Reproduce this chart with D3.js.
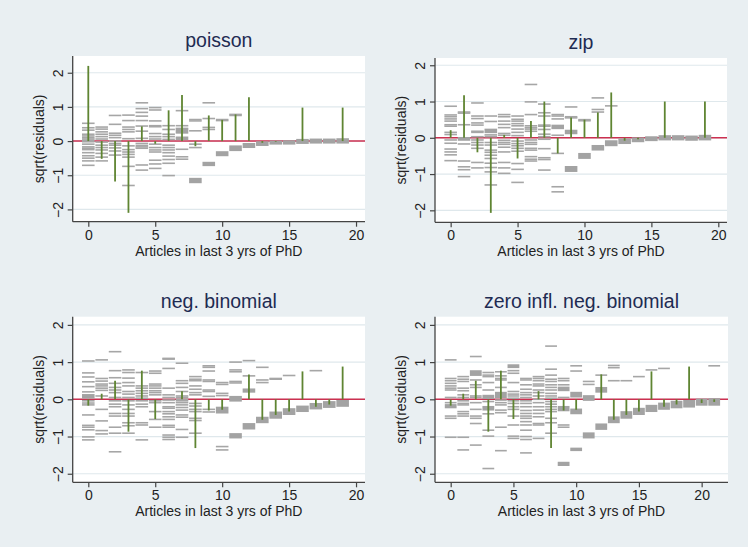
<!DOCTYPE html>
<html>
<head>
<meta charset="utf-8">
<script src="https://cdn.jsdelivr.net/npm/d3@7"></script>
<style>
  body { margin: 0; background: #e9eff2; }
  text { font-family: "Liberation Sans", Arial, sans-serif; }
</style>
</head>
<body>
<div id="chart"></div>
<script>
// panel titles
var titles = ["poisson", "zip", "neg. binomial", "zero infl. neg. binomial"];
var xTicks = [0, 5, 10, 15, 20];
var yTicks = [-2, -1, 0, 1, 2];

// mean residual spikes, one per count (0..n)
var poissonSpikes = [2.2, -0.52, -1.18, -2.1, 0.43, -0.08, 0.9, 1.35, -0.15, 0.75, 0.62, 0.78, 1.28, -0.05, -0.02, 0, 0.98, 0, 0, 0.98];
var zipSpikes = [0.21, 1.17, -0.4, -2.07, 0.08, -0.57, 0.46, 1.0, -0.43, 0.56, 0.5, 0.7, 1.25, -0.08, -0.04, 0, 1.0, 0, 0, 1.0];
var nbSpikes = [-0.17, 0.15, 0.5, -0.87, 0.77, -0.53, 0, 0.22, -1.31, -0.3, -0.28, 0, 0.67, -0.55, -0.42, -0.33, 0.75, -0.2, -0.14, 0.88];
var zinbSpikes = [-0.17, 0.15, 0.5, -0.87, 0.77, -0.53, 0, 0.22, -1.31, -0.3, -0.28, 0, 0.67, -0.55, -0.42, -0.33, 0.75, -0.2, -0.14, 0.88, -0.1, -0.07];

// residual dashes per count; [a, b] = dense band
var poissonDashes = [
  [0.52, 0.39, 0.32, 0.2, 0.15, 0.1, 0.06, 0.02, -0.02, -0.09, -0.17, -0.21, -0.25, -0.34, -0.43, -0.5, -0.58, -0.71],
  [0.41, 0.35, 0.27, 0.2, 0.13, 0.06, -0.03, -0.12, -0.19, -0.26, -0.36, -0.47, -0.58],
  [0.75, 0.49, 0.23, 0.17, 0.1, 0.0, -0.07, -0.12, -0.2, -0.29, -0.41],
  [0.76, 0.6, 0.41, 0.34, 0.27, 0.07, -0.14, -0.25, -0.32, -0.39, -0.47, -0.74, -1.3],
  [1.12, 0.95, 0.84, 0.73, 0.6, 0.44, 0.29, 0.08, -0.07, -0.13, -0.17, -0.21, -0.7, -0.85],
  [0.98, 0.91, 0.59, 0.45, 0.42, 0.22, 0.13, 0.06, -0.09, -0.19, -0.26, -0.32, -0.56, -0.67, -0.8],
  [0.45, 0.34, 0.2, 0.13, 0.05, -0.12, -0.19, -0.26, -0.34, -0.44, -0.54, -0.65, -1.01],
  [0.89, 0.45, 0.37, [0.34, 0.24], [0.11, 0.05], -0.24, -0.46, -0.53],
  [0.63, 0.59, 0.3, -0.09, -0.19, [-1.1, -1.21]],
  [1.12, 0.66, 0.4, 0.34, [-0.63, -0.71]],
  [0.63, 0.6, [-0.32, -0.42]],
  [0.78, 0.75, [-0.15, -0.27]],
  [[-0.08, -0.18]],
  [[-0.03, -0.12]],
  [[-0.01, -0.08]],
  [[0, -0.08]],
  [[0.04, -0.06]],
  [[0.05, -0.05]],
  [[0.05, -0.05]],
  [[0.06, -0.05]]
];
var zipDashes = [
  [0.87, 0.63, 0.58, 0.52, 0.46, 0.36, 0.32, 0.15, 0.09, -0.06, -0.15, -0.31, -0.39, -0.47, -0.63],
  [0.71, 0.68, 0.36, [0.0, -0.06], -0.17, -0.64, -0.8, -0.88, -1.07],
  [0.96, 0.6, 0.53, 0.41, 0.35, 0.18, 0.15, 0.03, -0.06, -0.13, -0.2, -0.29, -0.68, -0.83],
  [0.6, 0.45, [0.23, 0.15], 0.08, 0.03, -0.13, -0.2, -0.34, -0.4, -0.48, -0.57, -0.7, -0.82, -0.94, -1.3],
  [0.64, 0.58, 0.46, 0.37, 0.28, 0.12, 0.07, -0.07, -0.13, -0.18, -0.26, -0.39, -0.68, -0.83, -0.98],
  [0.6, 0.51, 0.46, 0.39, 0.33, 0.24, 0.15, 0.06, -0.09, -0.16, -0.22, -0.29, -0.37, -0.71, -0.87, -1.23],
  [1.47, 0.99, 0.64, 0.33, 0.28, 0.24, 0.18, -0.06, -0.13, -0.18, -0.29, -0.34, -0.52, -0.59, -0.64],
  [0.93, 0.69, 0.6, 0.35, 0.32, 0.23, 0.1, 0.03, -0.04, -0.3, -0.55, -0.6, -0.89],
  [0.64, 0.6, 0.52, [0.34, 0.26], 0.07, -0.43, -1.35, -1.49],
  [0.85, 0.58, 0.55, [0.2, 0.12], [-0.8, -0.92]],
  [0.5, 0.47, [-0.44, -0.56]],
  [1.1, 0.78, 0.71, [-0.22, -0.33]],
  [0.88, [-0.09, -0.21]],
  [[-0.04, -0.15]],
  [[-0.01, -0.1]],
  [[0.02, -0.07]],
  [[0.05, -0.05]],
  [[0.05, -0.05]],
  [[0.04, -0.06]],
  [[0.06, -0.05]]
];
var nbDashes = [
  [1.03, 0.71, 0.6, 0.47, 0.34, 0.2, [0.12, 0.04], -0.04, -0.1, -0.15, -0.42, -0.7, -0.75, -0.82, -1.01, -1.09],
  [1.06, 0.56, 0.49, 0.41, 0.36, 0.3, 0.24, 0.09, -0.27, -0.58, -0.84, -0.93],
  [1.28, 0.77, 0.58, 0.43, 0.32, 0.25, 0.18, 0.05, -0.04, -0.13, -0.2, -0.38, -0.45, -0.75, -0.91, -1.41],
  [0.79, 0.72, 0.57, 0.45, 0.36, 0.21, 0.14, 0.05, -0.04, -0.15, -0.27, -0.38, -0.45, -0.63, -0.71, -0.91],
  [0.72, 0.36, 0.3, 0.23, 0.16, 0.09, 0.03, -0.04, -0.13, -0.2, -0.63, -0.69, -1.09],
  [0.76, 0.7, 0.41, 0.36, 0.3, 0.23, 0.18, 0.12, -0.04, -0.09, -0.33, -0.54, -0.75],
  [1.1, 1.08, 0.83, 0.3, 0.12, 0.05, -0.02, -0.09, -0.2, -0.24, -0.33, -0.39, -0.47, -0.54, -0.7, -0.75, -0.96, -1.02, -1.08],
  [0.97, 0.5, 0.43, 0.32, 0.21, 0.09, 0.05, 0, -0.04, -0.09, -0.15, -0.22, -0.29, -0.42, -0.48, -0.81, -1.02],
  [0.61, 0.54, 0.5, 0.36, 0.27, 0.18, 0.12, -0.11, -0.18, -0.27, -0.33, -0.51, -0.57, -0.91],
  [0.9, 0.86, 0.76, 0.52, 0.48, 0.25, 0.21, 0.08, -0.27, -0.34],
  [0.45, 0.4, 0.16, 0.1, [-0.22, -0.36], -1.27, -1.36],
  [1.0, 0.79, 0.74, 0.48, 0.44, [0.07, -0.04], [-0.93, -1.03]],
  [1.04, 0.63, [0.27, 0.2], [-0.66, -0.79]],
  [0.86, 0.52, 0.45, [-0.49, -0.62]],
  [0.56, 0.54, [-0.35, -0.5]],
  [0.64, [-0.26, -0.4]],
  [[-0.19, -0.32]],
  [0.77, [-0.12, -0.25]],
  [[-0.07, -0.21]],
  [[-0.04, -0.18]]
];
var zinbDashes = [
  [1.06, 0.56, 0.5, 0.43, 0.36, 0.3, 0.25, 0.05, -0.09, [-0.15, -0.22], -0.45, -0.51, -1.02],
  [0.61, 0.54, 0.48, 0.3, 0.23, 0.12, 0.05, -0.04, -0.11, -0.15, -0.33, -0.39, -0.45, -1.02, -1.36],
  [1.15, [0.76, 0.65], 0.52, 0.39, 0.32, 0.09, 0.05, -0.09, -0.27, -0.45, -0.51, -0.65, -1.23],
  [0.72, 0.65, 0.61, 0.45, 0.25, [0.1, 0.03], -0.06, [-0.2, -0.28], -0.39, -0.83, -0.99, -1.86],
  [0.74, 0.63, 0.56, 0.52, 0.32, [0.18, 0.05], -0.02, -0.09, -0.15, -0.29, -0.36, -0.75, -1.38],
  [[0.92, 0.86], 0.77, 0.7, 0.45, 0.21, 0.14, 0.09, 0.03, -0.04, -0.11, -0.2, -0.27, -0.45, -0.69, -0.99, -1.05],
  [0.56, 0.52, 0.39, 0.27, 0.18, 0.12, 0.05, -0.04, -0.11, -0.2, -0.3, -0.38, -0.45, -0.51, -0.6, -0.69, -0.83, -1.0, -1.08, -1.44],
  [0.61, 0.56, 0.5, 0.41, 0.36, 0.25, 0.18, 0.09, 0, -0.09, -0.2, -0.29, -0.38, -0.47, -0.65, -0.69, -1.05],
  [1.43, 0.81, 0.65, 0.54, 0.48, 0.39, 0.32, 0.25, 0.16, 0.09, 0.03, -0.06, -0.13, -0.2, -0.27, -0.33, -0.51, -0.63, -0.91],
  [0.56, 0.5, 0.39, [0.32, 0.24], 0.05, [-0.2, -0.3], -0.69, -0.75, [-1.7, -1.77]],
  [0.9, 0.76, [0.18, 0.07], [-0.27, -0.38], [-1.32, -1.37]],
  [0.48, 0.4, [0.09, -0.02], [-0.91, -1.03]],
  [0.65, [0.31, 0.2], [-0.67, -0.8]],
  [0.91, 0.85, 0.5, [-0.48, -0.62]],
  [0.5, [-0.34, -0.5]],
  [0.61, [-0.25, -0.4]],
  [0.79, [-0.17, -0.32]],
  [0.83, [-0.11, -0.26]],
  [[-0.06, -0.22]],
  [[-0.04, -0.2]],
  [[0, -0.15]],
  [0.9, [0.01, -0.15]]
];

var svgWidth = 748;
var svgHeight = 547;

var svg = d3.select("#chart")
  .append("svg")
  .attr("width", svgWidth)
  .attr("height", svgHeight);

svg.append("rect")
  .attr("width", svgWidth)
  .attr("height", svgHeight)
  .attr("fill", "#e9eff2");

// plot-region geometry for each panel
var panels = [
  {title: titles[0], spikes: poissonSpikes, dashes: poissonDashes,
   left: 72.7, right: 365, top: 56, bottom: 221.7, xDom: [-1.165, 20.67], yDom: [-2.36, 2.49]},
  {title: titles[1], spikes: zipSpikes, dashes: zipDashes,
   left: 435, right: 727, top: 58, bottom: 222.3, xDom: [-1.17, 20.65], yDom: [-2.33, 2.2]},
  {title: titles[2], spikes: nbSpikes, dashes: nbDashes,
   left: 72.7, right: 365, top: 316.7, bottom: 482.3, xDom: [-1.165, 20.67], yDom: [-2.23, 2.22]},
  {title: titles[3], spikes: zinbSpikes, dashes: zinbDashes,
   left: 435, right: 728, top: 316.7, bottom: 482.3, xDom: [-1.25, 22.1], yDom: [-2.23, 2.22]}
];

panels.forEach(function(p) {
  var g = svg.append("g");
  var x = d3.scaleLinear().domain(p.xDom).range([p.left, p.right]);
  var y = d3.scaleLinear().domain(p.yDom).range([p.bottom, p.top]);
  var half = 0.47;

  g.append("rect")
    .attr("x", p.left).attr("y", p.top)
    .attr("width", p.right - p.left).attr("height", p.bottom - p.top)
    .attr("fill", "white");

  // gridlines
  g.selectAll(".grid")
    .data(yTicks)
    .enter()
    .append("line")
    .attr("x1", p.left).attr("x2", p.right)
    .attr("y1", d => y(d)).attr("y2", d => y(d))
    .attr("stroke", "#dfe8ec")
    .attr("stroke-width", 1.2);

  // zero line
  g.append("line")
    .attr("x1", p.left).attr("x2", p.right)
    .attr("y1", y(0)).attr("y2", y(0))
    .attr("stroke", "#cc3050")
    .attr("stroke-width", 1.6);

  // flatten dashes
  var flat = [];
  p.dashes.forEach(function(list, k) {
    list.forEach(function(v) { flat.push({k: k, v: v}); });
  });

  g.selectAll(".dash")
    .data(flat.filter(d => typeof d.v === "number"))
    .enter()
    .append("line")
    .attr("x1", d => x(d.k - half)).attr("x2", d => x(d.k + half))
    .attr("y1", d => y(d.v)).attr("y2", d => y(d.v))
    .attr("stroke", "#a6a6a6")
    .attr("stroke-width", 1.6);

  g.selectAll(".band")
    .data(flat.filter(d => typeof d.v !== "number"))
    .enter()
    .append("rect")
    .attr("x", d => x(d.k - half))
    .attr("width", d => x(d.k + half) - x(d.k - half))
    .attr("y", d => y(d.v[0]) - 0.8)
    .attr("height", d => y(d.v[1]) - y(d.v[0]) + 1.6)
    .attr("fill", "#a3a3a3");

  // spikes
  g.selectAll(".spike")
    .data(p.spikes.map((v, k) => ({k: k, v: v})).filter(d => d.v !== 0))
    .enter()
    .append("line")
    .attr("x1", d => x(d.k)).attr("x2", d => x(d.k))
    .attr("y1", y(0)).attr("y2", d => y(d.v))
    .attr("stroke", "#5f8532")
    .attr("stroke-width", 1.8);

  // axes
  var leftAxis = d3.axisLeft(y).tickValues(yTicks).tickSize(5)
    .tickFormat(d => d < 0 ? "\u2212" + Math.abs(d) : d);
  var bottomAxis = d3.axisBottom(x).tickValues(xTicks).tickSize(5);

  var ya = g.append("g")
    .attr("transform", `translate(${p.left},0)`)
    .call(leftAxis);
  ya.select(".domain").attr("d", `M0,${p.top}V${p.bottom}`);
  ya.selectAll(".tick text")
    .attr("transform", "rotate(-90)")
    .attr("x", 0)
    .attr("y", -10)
    .attr("dy", 0)
    .attr("text-anchor", "middle")
    .style("font-size", "14px");

  var xa = g.append("g")
    .attr("transform", `translate(0,${p.bottom})`)
    .call(bottomAxis);
  xa.select(".domain").attr("d", `M${p.left},0H${p.right}`);
  xa.selectAll(".tick text")
    .attr("y", 18).attr("dy", 0)
    .style("font-size", "14px");

  [ya, xa].forEach(function(a) {
    a.select(".domain").attr("stroke", "#444").attr("stroke-width", 1.3);
    a.selectAll(".tick line").attr("stroke", "#444").attr("stroke-width", 1.2);
    a.selectAll("text").attr("fill", "#222").style("font-family", "Liberation Sans, Arial, sans-serif");
  });

  var cx = (p.left + p.right) / 2;
  var cy = (p.top + p.bottom) / 2;

  g.append("text")
    .attr("x", cx).attr("y", p.top - 9)
    .attr("text-anchor", "middle")
    .attr("fill", "#1e2b52")
    .style("font-size", "19.5px")
    .text(p.title);

  g.append("text")
    .attr("x", cx).attr("y", p.bottom + 34)
    .attr("text-anchor", "middle")
    .attr("fill", "#222")
    .style("font-size", "14px")
    .text("Articles in last 3 yrs of PhD");

  g.append("text")
    .attr("transform", `translate(${p.left - 29},${cy}) rotate(-90)`)
    .attr("text-anchor", "middle")
    .attr("fill", "#222")
    .style("font-size", "14px")
    .text("sqrt(residuals)");
});
</script>
</body>
</html>
